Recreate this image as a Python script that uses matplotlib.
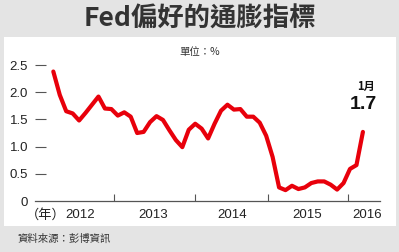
import matplotlib
matplotlib.use("Agg")
import matplotlib.pyplot as plt
from matplotlib.patches import Rectangle

plt.rcParams['font.family'] = ['Liberation Sans', 'Noto Sans CJK TC', 'DejaVu Sans']

# monthly values (index 0 = first point, 48 = Jan 2016)
valores = [2.38, 1.95, 1.65, 1.61, 1.48, 1.62, 1.77, 1.92, 1.70, 1.69,
           1.57, 1.63, 1.55, 1.25, 1.27, 1.45, 1.56, 1.49, 1.30, 1.12,
           0.99, 1.31, 1.42, 1.33, 1.15, 1.42, 1.66, 1.77, 1.68, 1.69,
           1.55, 1.55, 1.44, 1.20, 0.81, 0.25, 0.20, 0.28, 0.22, 0.25,
           0.33, 0.36, 0.36, 0.30, 0.21, 0.33, 0.59, 0.66, 1.27]
meses = list(range(len(valores)))
anos = ['2012', '2013', '2014', '2015', '2016']
pos_anos = [4.1, 15.5, 27.7, 39.3, 48.6]
limites_anos = [9.4, 21.9, 33.3, 45.7]
y_ticks = [0, 0.5, 1.0, 1.5, 2.0, 2.5]
y_labels = ['0', '0.5', '1.0', '1.5', '2.0', '2.5']

W, H = 399, 252
fig = plt.figure(figsize=(W / 100, H / 100), dpi=100)
fig.patch.set_facecolor('#e4e4e4')
fig.patches.append(Rectangle((4 / W, (H - 226) / H), 392 / W, 189 / H,
                             transform=fig.transFigure, facecolor='white',
                             edgecolor='none', zorder=-1))

ax = fig.add_axes([35 / W, (H - 201) / H, 345 / W, 136 / H])
ax.set_zorder(2)
ax.set_facecolor('none')
ax.plot(meses, valores, color='#e8000b', lw=3.0, solid_joinstyle='round',
        solid_capstyle='round', clip_on=False, zorder=3)

ax.set_xlim(-2.84, 50.65)
ax.set_ylim(0, 2.5)
for s in ['top', 'right', 'left']:
    ax.spines[s].set_visible(False)
ax.spines['bottom'].set_color('#555555')
ax.spines['bottom'].set_linewidth(0.9)

ax.set_yticks(y_ticks)
ax.set_yticklabels(y_labels)
ax.tick_params(axis='y', direction='in', length=8, width=0.8, color='#555555',
               pad=5, labelsize=9.5, labelcolor='#222222')
ax.yaxis.get_major_ticks()[0].tick1line.set_visible(False)

ax.set_xticks(pos_anos)
ax.set_xticklabels(anos)
ax.set_xticks(limites_anos, minor=True)
ax.tick_params(axis='x', which='major', length=0, pad=6, labelsize=9.5,
               labelcolor='#222222')
ax.tick_params(axis='x', which='minor', direction='in', length=5, width=0.8,
               color='#555555')

fig.text(46 / W, 1 - 215 / H, '（年）', ha='center', va='center', fontsize=9.5,
         color='#222222', family=['Noto Sans CJK TC'])

fig.text(0.5, 1 - 19 / H, 'Fed偏好的通膨指標', ha='center', va='center',
         fontsize=19, fontweight='bold', color='#333333',
         family=['Noto Sans CJK TC'])
fig.text(0.5, 1 - 52 / H, '單位：%', ha='center', va='center', fontsize=7.5,
         color='#333333', family=['Noto Sans CJK TC', 'DejaVu Sans'])
fig.text(18 / W, 1 - 239 / H, '資料來源：彭博資訊', ha='left', va='center',
         fontsize=7.5, color='#333333', family=['Noto Sans CJK TC'])

ax.annotate('1月', (meses[-1], valores[-1]), xytext=(2, 33),
            textcoords='offset points', ha='center', va='center', fontsize=8,
            fontweight='bold', color='#111111', family=['Noto Sans CJK TC'])
ax.annotate('1.7', (meses[-1], valores[-1]), xytext=(0, 20),
            textcoords='offset points', ha='center', va='center', fontsize=14,
            fontweight='bold', color='#111111')

fig.savefig('out.png', dpi=100, facecolor=fig.get_facecolor())
